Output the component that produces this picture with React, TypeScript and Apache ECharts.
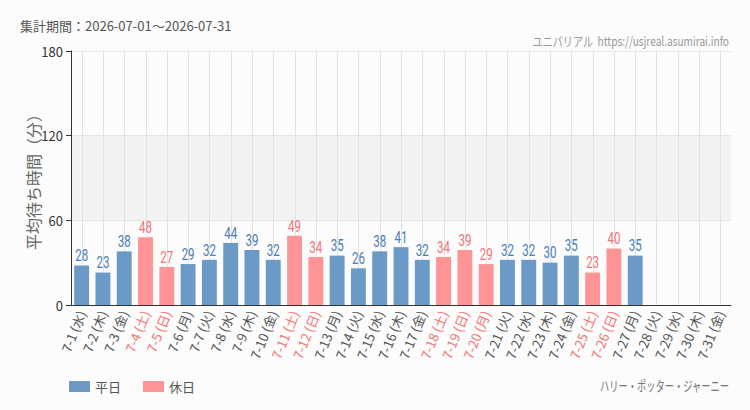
import React, { useEffect, useRef } from "react";
import * as echarts from "echarts";

const dates = [
  "7-1 (水)", "7-2 (木)", "7-3 (金)", "7-4 (土)", "7-5 (日)", "7-6 (月)", "7-7 (火)",
  "7-8 (水)", "7-9 (木)", "7-10 (金)", "7-11 (土)", "7-12 (日)", "7-13 (月)", "7-14 (火)",
  "7-15 (水)", "7-16 (木)", "7-17 (金)", "7-18 (土)", "7-19 (日)", "7-20 (月)", "7-21 (火)",
  "7-22 (水)", "7-23 (木)", "7-24 (金)", "7-25 (土)", "7-26 (日)", "7-27 (月)", "7-28 (火)",
  "7-29 (水)", "7-30 (木)", "7-31 (金)",
];
const waitTimes: (number | null)[] = [
  28, 23, 38, 48, 27, 29, 32, 44, 39, 32, 49, 34, 35, 26, 38, 41, 32, 34, 39, 29,
  32, 32, 30, 35, 23, 40, 35, null, null, null, null,
];
const holidays = ["7-4 (土)", "7-5 (日)", "7-11 (土)", "7-12 (日)", "7-18 (土)", "7-19 (日)", "7-20 (月)", "7-25 (土)", "7-26 (日)"];
const yTicks = [0, 60, 120, 180];

const BLUE = "#6b9ac6";
const BLUE_LABEL = "#4a7db5";
const PINK = "#ff9496";
const PINK_LABEL = "#f27476";
const CJK = "'Noto Sans CJK JP', sans-serif";
const NUM = "Roboto, 'Noto Sans', sans-serif";

export default function App() {
  const ref = useRef<HTMLDivElement>(null);
  useEffect(() => {
    if (!ref.current) return;
    const chart = echarts.init(ref.current, null, { renderer: "svg" });
    const isHol = (d: string) => holidays.includes(d);
    const weekday = dates.map((d, i) => (isHol(d) ? null : waitTimes[i]));
    const holiday = dates.map((d, i) => (isHol(d) ? waitTimes[i] : null));
    const yMax = yTicks[yTicks.length - 1];

    const labelSeries = (name: string, vals: (number | null)[], color: string) => ({
      name: name,
      type: "custom",
      z: 4,
      silent: true,
      data: vals.map((v, i) => (v == null ? null : [i, v])).filter((x) => x != null),
      renderItem: (params: any, api: any) => {
        const p = api.coord([api.value(0), api.value(1)]);
        return {
          type: "text",
          x: p[0],
          y: p[1] - 2,
          scaleX: 0.72,
          style: {
            text: String(api.value(1)),
            textAlign: "center",
            textVerticalAlign: "bottom",
            fill: color,
            fontSize: 16,
            fontFamily: NUM,
          },
        };
      },
    });

    chart.setOption({
      animation: false,
      backgroundColor: "#fbfcfb",
      textStyle: { fontFamily: CJK },
      grid: { left: 71, right: 19, top: 51, bottom: 105 },
      legend: {
        left: 64,
        top: 375,
        itemWidth: 21,
        itemHeight: 11,
        itemGap: 22,
        icon: "rect",
        textStyle: { color: "#555", fontSize: 13 },
        data: ["平日", "休日"],
      },
      graphic: [
        {
          type: "text",
          x: 20,
          y: 25,
          style: { text: "集計期間：2026-07-01～2026-07-31", fill: "#555", fontSize: 13, fontFamily: CJK, textVerticalAlign: "middle" },
        },
        {
          type: "text",
          x: 729,
          y: 40,
          scaleX: 0.78,
          style: { text: "ユニバリアル  https://usjreal.asumirai.info", fill: "#999", fontSize: 13, fontFamily: CJK, textAlign: "right", textVerticalAlign: "middle" },
        },
        {
          type: "text",
          x: 729,
          y: 385,
          scaleX: 0.66,
          style: { text: "ハリー・ポッター・ジャーニー", fill: "#777", fontSize: 14, fontFamily: CJK, textAlign: "right", textVerticalAlign: "middle" },
        },
      ],
      xAxis: {
        type: "category",
        data: dates,
        axisLine: { lineStyle: { color: "#333" } },
        axisTick: { alignWithLabel: true, lineStyle: { color: "#333" } },
        splitLine: { show: false },
        axisLabel: {
          rotate: 68,
          interval: 0,
          fontSize: 13,
          margin: 6,
          color: (v: string) => (holidays.includes(v) ? PINK_LABEL : "#555"),
        },
      },
      yAxis: {
        type: "value",
        min: yTicks[0],
        max: yMax,
        interval: 60,
        name: "平均待ち時間（分）",
        nameLocation: "middle",
        nameGap: 30,
        nameMoveOverlap: false,
        nameTextStyle: { fontSize: 16, color: "#666" },
        axisLine: { show: true, lineStyle: { color: "#333" } },
        axisTick: { show: true, lineStyle: { color: "#333" } },
        axisLabel: { fontSize: 13, color: "#333" },
        splitLine: { lineStyle: { color: "#e4e4e4" } },
        splitArea: { show: true, areaStyle: { color: ["rgba(255,255,255,0)", "#f3f3f3"] } },
      },
      series: [
        {
          name: "vgrid",
          type: "custom",
          z: 1,
          silent: true,
          data: dates.map((d, i) => [i, yMax]),
          renderItem: (params: any, api: any) => {
            const t = api.coord([api.value(0), api.value(1)]);
            const b = api.coord([api.value(0), 0]);
            const x = Math.round(t[0]) + 0.5;
            return {
              type: "line",
              shape: { x1: x, y1: t[1], x2: x, y2: b[1] },
              style: { stroke: "#e2e2e2", lineWidth: 1 },
            };
          },
        },
        {
          name: "平日",
          type: "bar",
          stack: "a",
          barWidth: "70%",
          z: 3,
          data: weekday,
          itemStyle: { color: BLUE },
        },
        {
          name: "休日",
          type: "bar",
          stack: "a",
          barWidth: "70%",
          z: 3,
          data: holiday,
          itemStyle: { color: PINK },
        },
        labelSeries("平日ラベル", weekday, BLUE_LABEL),
        labelSeries("休日ラベル", holiday, PINK_LABEL),
      ],
    });
    return () => chart.dispose();
  }, []);
  return <div ref={ref} style={{ width: 750, height: 410, position: "absolute", left: 0, top: 0 }} />;
}
